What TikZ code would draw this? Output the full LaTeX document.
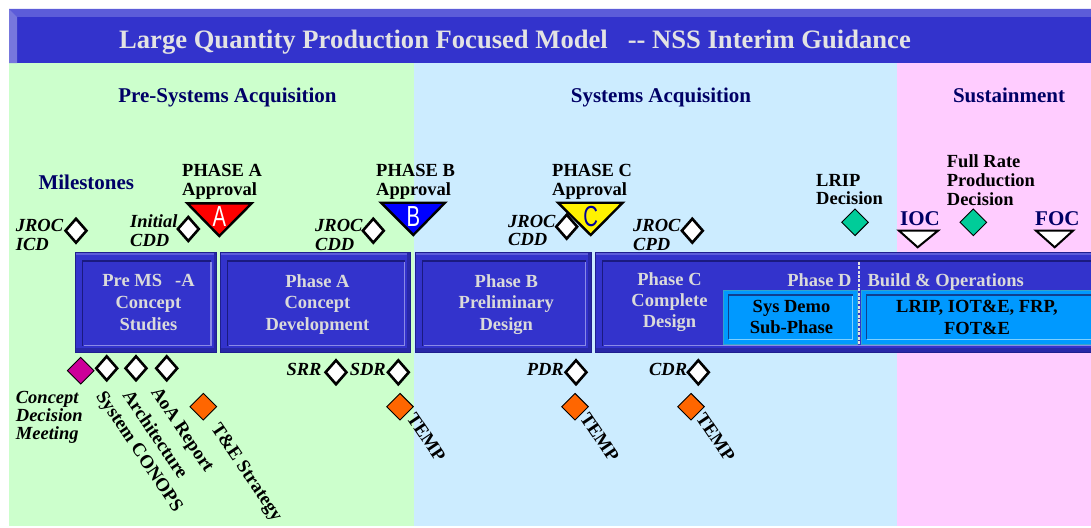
\documentclass[tikz,border=0pt]{standalone}
\usepackage{fontspec}
\setmainfont{Liberation Serif}
\newfontfamily\sansf{Liberation Sans}
\usetikzlibrary{shapes.geometric,calc}
\definecolor{greenR}{HTML}{CCFFCC}
\definecolor{blueR}{HTML}{CCECFF}
\definecolor{pinkR}{HTML}{FFCCFF}
\definecolor{bar}{HTML}{3333CC}
\definecolor{barlite}{HTML}{5C5CD9}
\definecolor{barleft}{HTML}{7777DD}
\definecolor{boxedge}{HTML}{1F1F8F}
\definecolor{bardk}{HTML}{2828A8}
\definecolor{innerdark}{HTML}{1A1A80}
\definecolor{innerlite}{HTML}{8A8AE6}
\definecolor{boxtext}{HTML}{DADADA}
\definecolor{titletext}{HTML}{E3E3E3}
\definecolor{navy}{HTML}{000066}
\definecolor{sky}{HTML}{0099FF}
\definecolor{skyedge}{HTML}{33A3CC}
\definecolor{skydark}{HTML}{10408F}
\definecolor{skylite}{HTML}{7FD0FF}
\definecolor{orangeD}{HTML}{FF6600}
\definecolor{greenD}{HTML}{00CC99}
\definecolor{magD}{HTML}{CC0099}
\definecolor{Cdark}{HTML}{000099}
\newcommand\fsz[2]{\fontsize{#1}{#2}\selectfont}
\newcommand\bevbox[4]{%
  \fill[boxedge] (#1,#2) rectangle (#3,#4);
  \fill[bar] ({#1+1},{#2+1}) rectangle ({#3-1},{#4-1});
  \fill[barlite] ({#1+1},{#2+1}) rectangle ({#3-1},{#2+3.5});
  \fill[bardk] ({#1+1},{#4-4.5}) rectangle ({#3-1},{#4-1});
  \fill[bardk] ({#3-3.5},{#2+1}) rectangle ({#3-1},{#4-1});
  \draw[innerdark, line width=1.8pt] ({#1+7.5},{#4-7}) -- ({#1+7.5},{#2+9.5}) -- ({#3-6},{#2+9.5});
  \draw[innerlite, line width=1.2pt] ({#1+8.5},{#4-7}) -- ({#3-6},{#4-7}) -- ({#3-6},{#2+10.5});
}
\newcommand\skybox[4]{%
  \draw[fill=sky, draw=skyedge, line width=1pt] (#1,#2) rectangle (#3,#4);
  \draw[skydark, line width=1.5pt] ({#1+5},{#4-5}) -- ({#1+5},{#2+4.5}) -- ({#3-4.5},{#2+4.5});
  \draw[skylite, line width=1.2pt] ({#1+5.5},{#4-4.5}) -- ({#3-4.5},{#4-4.5}) -- ({#3-4.5},{#2+5});
}
\begin{document}
\begin{tikzpicture}[x=1pt,y=-1pt,
  lbl/.style={font=\bfseries\itshape\fsz{18.5}{18.3}, align=left, inner sep=0, anchor=north west},
  blk/.style={font=\bfseries\fsz{18.5}{19}, align=left, inner sep=0, anchor=north west},
  hdr/.style={font=\bfseries\fsz{21}{21}, text=navy, inner sep=0, anchor=base},
  boxtxt/.style={font=\bfseries\fsz{18.5}{21.8}, text=boxtext, align=center, inner sep=0, anchor=north},
  skytxt/.style={font=\bfseries\fsz{18.5}{21.3}, text=black, align=center, inner sep=0, anchor=north},
  rot/.style={font=\bfseries\fsz{18.8}{18.8}, rotate=-56, anchor=north west, inner sep=0},
  wd/.style={diamond, draw=black, line width=2.6pt, fill=white, minimum width=22pt, minimum height=25pt, inner sep=0},
  cd/.style={diamond, draw=black, line width=0.9pt, minimum width=27pt, minimum height=27pt, inner sep=0},
  od/.style={cd, fill=orangeD},
  gd/.style={cd, fill=greenD},
  md/.style={cd, fill=magD},
  tri/.style={draw=black, line width=2.4pt, line join=miter},
  letter/.style={font=\sansf\fsz{29}{29}, inner sep=0, anchor=base}
]
\useasboundingbox (0,0) rectangle (1091,527);
\fill[white] (0,0) rectangle (1091,527);
% regions
\fill[greenR] (9,63) rectangle (414,526);
\fill[blueR] (414,63) rectangle (897.3,526);
\fill[pinkR] (897.3,63) rectangle (1091,526);
% title bar
\fill[bar] (9,9) rectangle (1091,63);
\fill[barlite] (9,9) -- (1091,9) -- (1091,17) -- (17,17) -- cycle;
\fill[barleft] (9,9) -- (17,17) -- (17,63) -- (9,63) -- cycle;
\node[font=\bfseries\fsz{26.6}{26.6}, text=titletext, inner sep=0, anchor=base] (title) at (515,48.3)
  {Large Quantity Production Focused Model\hspace{20pt}-{}- NSS Interim Guidance};
% headers
\node[hdr] (h1) at (227.5,102) {Pre-Systems Acquisition};
\node[hdr] (h2) at (661,102) {Systems Acquisition};
\node[hdr] (h3) at (1009,102) {Sustainment};
\node[hdr, anchor=base west] (miles) at (38.3,189.3) {Milestones};
% phase boxes
\bevbox{75}{251.7}{217}{352.7}
\bevbox{220}{251.7}{410.7}{352.7}
\bevbox{415}{251.7}{591.7}{352.7}
\bevbox{595}{251.7}{1110}{352.7}
\skybox{723.3}{290.7}{857.3}{344}
\skybox{861.7}{290.7}{1100}{344}
\draw[boxtext!80!white, line width=2pt, dash pattern=on 3pt off 1.4pt] (859,261.7) -- (859,344);
\node[boxtxt] (b1) at (148.5,274.1) {Pre MS\hspace{13pt}-A\\Concept\\Studies};
\node[boxtxt] (b2) at (317.5,274.1) {Phase A\\Concept\\Development};
\node[boxtxt] (b3) at (506.3,274.1) {Phase B\\Preliminary\\Design};
\node[boxtxt, font=\bfseries\fsz{18.5}{21.2}] (b4) at (669.5,272.4) {Phase C\\Complete\\Design};
\node[boxtxt, anchor=base east] (pd) at (851.7,286.7) {Phase D};
\node[boxtxt, anchor=base west] (bo) at (867.3,286.7) {Build \& Operations};
\node[skytxt] (sd) at (791.5,300.2) {Sys Demo\\Sub-Phase};
\node[skytxt] (lr) at (977,300.2) {LRIP, IOT\&E, FRP,\\FOT\&E};
% approval triangles
\coordinate (ta1) at (187.3,203.3); \coordinate (ta2) at (251.7,203.3); \coordinate (ta3) at (219.3,236);
\draw[tri, fill=red] (ta1) -- (ta2) -- (ta3) -- cycle;
\node[letter, text=white] (la) at (219.5,226) {\scalebox{0.7}[1]{A}};
\coordinate (tb1) at (381,202.7); \coordinate (tb2) at (445,202.7); \coordinate (tb3) at (413.3,235);
\draw[tri, fill=blue] (tb1) -- (tb2) -- (tb3) -- cycle;
\node[letter, text=white] (lb) at (413.3,226) {\scalebox{0.7}[1]{B}};
\coordinate (tc1) at (558,202.7); \coordinate (tc2) at (622.7,202.7); \coordinate (tc3) at (590.7,235);
\draw[tri, fill=yellow] (tc1) -- (tc2) -- (tc3) -- cycle;
\node[letter, text=Cdark] (lc) at (590.7,226) {\scalebox{0.7}[1]{C}};
\node[blk] (pa) at (182,164.4) {PHASE A\\Approval};
\node[blk] (pb) at (376,164.4) {PHASE B\\Approval};
\node[blk] (pc) at (552,164.4) {PHASE C\\Approval};
% IOC / FOC
\coordinate (ti1) at (899,230.7); \coordinate (ti2) at (938,230.7); \coordinate (ti3) at (917.7,247.3);
\draw[tri, fill=white, line width=2pt] (ti1) -- (ti2) -- (ti3) -- cycle;
\coordinate (tf1) at (1036,230.7); \coordinate (tf2) at (1073,230.7); \coordinate (tf3) at (1054.7,247.3);
\draw[tri, fill=white, line width=2pt] (tf1) -- (tf2) -- (tf3) -- cycle;
\node[hdr, anchor=base west] (ioc) at (900,225) {IOC};
\node[hdr, anchor=base west] (foc) at (1035,225) {FOC};
% LRIP / FRP decisions
\node[gd] (lrd) at (855,222.3) {};
\node[gd] (frd) at (973.3,222.3) {};
\node[blk, font=\bfseries\fsz{18.5}{17.5}] (lrt) at (816,174.4) {LRIP\\Decision};
\node[blk, font=\bfseries\fsz{18.5}{18.7}] (frt) at (946.7,154.7) {Full Rate\\Production\\Decision};
% upper milestone diamonds
\node[wd] (d1) at (76,230.7) {};
\node[lbl] (t1) at (15.7,219.3) {JROC\\ICD};
\node[wd] (d2) at (188.3,229) {};
\node[lbl] (t2) at (130,214.7) {Initial\\CDD};
\node[wd] (d3) at (373.3,230.7) {};
\node[lbl] (t3) at (315,219.3) {JROC\\CDD};
\node[wd] (d4) at (566.7,226.7) {};
\node[lbl] (t4) at (508,214.9) {JROC\\CDD};
\node[wd] (d5) at (692.3,230.7) {};
\node[lbl] (t5) at (633,219.3) {JROC\\CPD};
% lower milestones
\node[md] (cdm) at (80.7,370.7) {};
\node[lbl] (cdmt) at (15.7,390.7) {Concept\\Decision\\Meeting};
\node[wd] (e1) at (106.7,368.3) {};
\node[wd] (e2) at (136,368.3) {};
\node[wd] (e3) at (166.7,368.3) {};
\node[rot] (r1) at (106,389) {System CONOPS};
\node[rot] (r2) at (133,388) {Architecture};
\node[rot] (r3) at (161,385) {AoA Report};
\node[od] (o1) at (203.3,406.7) {};
\node[rot] (r4) at (221,421) {T\&E Strategy};
\node[wd] (s1) at (336,372.3) {};
\node[lbl, anchor=base east] (srr) at (321.7,375) {SRR};
\node[wd] (s2) at (398.3,372.3) {};
\node[lbl, anchor=base east] (sdr) at (386,375) {SDR};
\node[wd] (s3) at (576,372.3) {};
\node[lbl, anchor=base east] (pdr) at (564,375) {PDR};
\node[wd] (s4) at (698.3,372.3) {};
\node[lbl, anchor=base east] (cdr) at (687.3,375) {CDR};
\node[od] (o2) at (400,406.7) {};
\node[rot] (m1) at (416.3,411) {TEMP};
\node[od] (o3) at (575,406.7) {};
\node[rot] (m2) at (589.7,411) {TEMP};
\node[od] (o4) at (691,406.7) {};
\node[rot] (m3) at (705.7,411) {TEMP};
\end{tikzpicture}
\end{document}
